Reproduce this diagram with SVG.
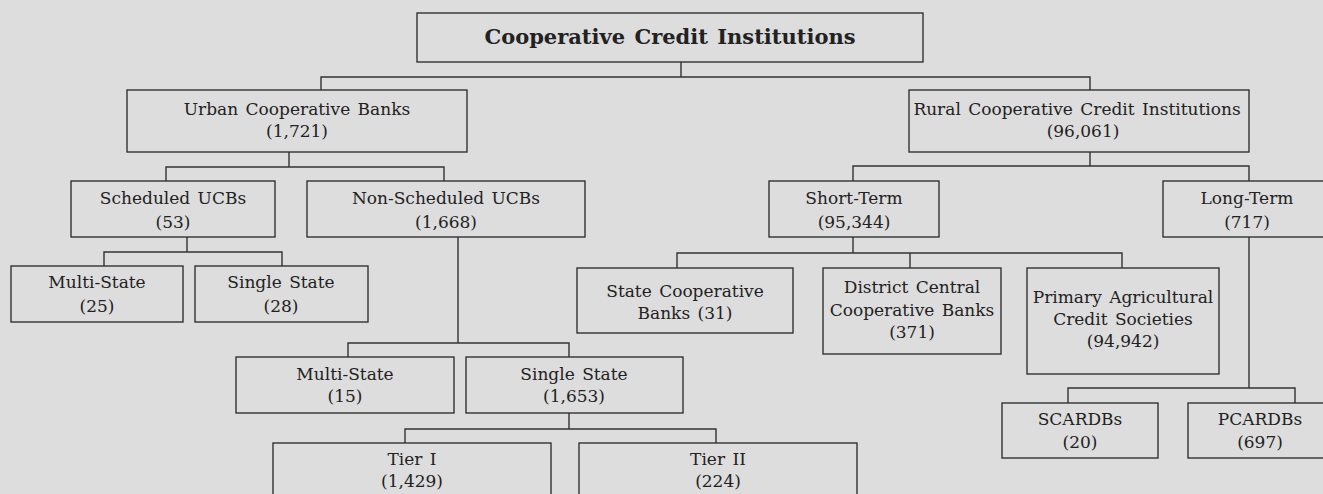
<svg xmlns="http://www.w3.org/2000/svg" width="1323" height="494" viewBox="0 0 1323 494">
<style>
.box{fill:none;stroke:#333;stroke-width:1.4}
.c{fill:none;stroke:#333;stroke-width:1.4}
text{font-family:"DejaVu Serif","Liberation Serif",serif;font-size:17px;fill:#222;text-anchor:middle;word-spacing:2px}
.title{font-weight:bold;font-size:21px}
</style>
<rect width="1323" height="494" fill="#dddddd"/>
<g id="connectors">
<path class="c" d="M681 62V77M321 90V77H1090V90"/>
<path class="c" d="M289 152V167M166 181V167H444V181"/>
<path class="c" d="M187 237V252M104 266V252H282V266"/>
<path class="c" d="M458 237V343M348 357V343H569V357"/>
<path class="c" d="M569 413V429M405 443V429H716V443"/>
<path class="c" d="M1090 152V166M853 181V166H1249V181"/>
<path class="c" d="M853 237V253M677 268V253H1122V268M910 253V268"/>
<path class="c" d="M1249 237V388M1068 403V388H1295V403"/>
</g>
<g id="root"><rect class="box" x="417" y="13" width="506" height="49"/><text class="title" x="670" y="44">Cooperative Credit Institutions</text></g>
<g id="urban"><rect class="box" x="127" y="90" width="340" height="62"/><text x="297" y="115">Urban Cooperative Banks</text><text x="297" y="137">(1,721)</text></g>
<g id="rural"><rect class="box" x="909" y="90" width="340" height="62"/><text x="1077" y="115">Rural Cooperative Credit Institutions</text><text x="1083" y="137">(96,061)</text></g>
<g id="scheduled"><rect class="box" x="71" y="181" width="204" height="56"/><text x="173" y="204">Scheduled UCBs</text><text x="173" y="228">(53)</text></g>
<g id="nonscheduled"><rect class="box" x="307" y="181" width="278" height="56"/><text x="446" y="204">Non-Scheduled UCBs</text><text x="446" y="228">(1,668)</text></g>
<g id="sch-multi"><rect class="box" x="11" y="266" width="172" height="56"/><text x="97" y="288">Multi-State</text><text x="97" y="312">(25)</text></g>
<g id="sch-single"><rect class="box" x="195" y="266" width="173" height="56"/><text x="281" y="288">Single State</text><text x="281" y="312">(28)</text></g>
<g id="ns-multi"><rect class="box" x="236" y="357" width="218" height="56"/><text x="345" y="380">Multi-State</text><text x="345" y="402">(15)</text></g>
<g id="ns-single"><rect class="box" x="466" y="357" width="217" height="56"/><text x="574" y="380">Single State</text><text x="574" y="402">(1,653)</text></g>
<g id="tier1"><rect class="box" x="273" y="443" width="278" height="60"/><text x="412" y="465">Tier I</text><text x="412" y="487">(1,429)</text></g>
<g id="tier2"><rect class="box" x="579" y="443" width="278" height="60"/><text x="718" y="465">Tier II</text><text x="718" y="487">(224)</text></g>
<g id="shortterm"><rect class="box" x="769" y="181" width="170" height="56"/><text x="854" y="204">Short-Term</text><text x="854" y="228">(95,344)</text></g>
<g id="longterm"><rect class="box" x="1163" y="181" width="170" height="56"/><text x="1247" y="204">Long-Term</text><text x="1247" y="228">(717)</text></g>
<g id="stcb"><rect class="box" x="577" y="268" width="216" height="65"/><text x="685" y="297">State Cooperative</text><text x="685" y="319">Banks  (31)</text></g>
<g id="dccb"><rect class="box" x="823" y="268" width="178" height="86"/><text x="912" y="293">District Central</text><text x="912" y="316">Cooperative Banks</text><text x="912" y="338">(371)</text></g>
<g id="pacs"><rect class="box" x="1027" y="268" width="192" height="106"/><text x="1123" y="303">Primary Agricultural</text><text x="1123" y="325">Credit Societies</text><text x="1123" y="347">(94,942)</text></g>
<g id="scardb"><rect class="box" x="1002" y="403" width="156" height="55"/><text x="1080" y="425">SCARDBs</text><text x="1080" y="448">(20)</text></g>
<g id="pcardb"><rect class="box" x="1188" y="403" width="144" height="55"/><text x="1260" y="425">PCARDBs</text><text x="1260" y="448">(697)</text></g>
</svg>
